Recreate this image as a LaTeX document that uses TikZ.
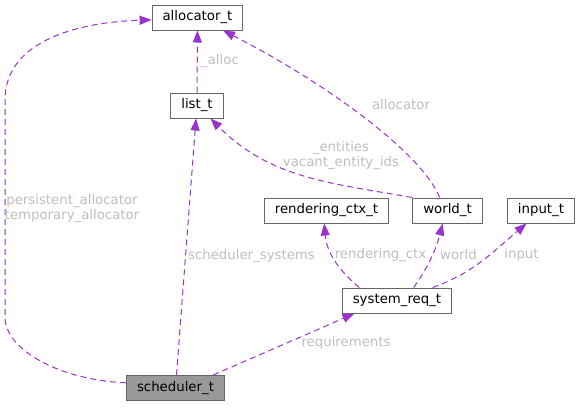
\documentclass[tikz,border=0pt]{standalone}
\usepackage{fontspec}
\setmainfont{DejaVu Sans}
\usepackage{tikz}
\usetikzlibrary{positioning,arrows.meta,calc}

\definecolor{memberline}{HTML}{9A32CD}
\definecolor{boxline}{HTML}{666666}
\definecolor{labeltext}{HTML}{BEBEBE}
\definecolor{mainfill}{HTML}{999999}

\begin{document}
\begin{tikzpicture}[x=1pt,y=-1pt,
    every node/.style={font=\fontsize{13.3}{14.5}\selectfont},
    cls/.style={draw=boxline,line width=1pt,fill=white,minimum height=25pt,inner xsep=10.5pt,inner ysep=0pt},
    lbl/.style={text=labeltext,align=center,inner sep=0pt},
    mem/.style={color=memberline,line width=1pt,dash pattern=on 6pt off 4pt,-{Triangle[length=12pt,width=9pt]}}]

  \useasboundingbox (0,0) rectangle (580,407);

  \node[cls] (alloc) at (197.5,17.5) {allocator\_t};
  \node[cls] (list) at (197,105.5) {list\_t};
  \node[cls] (rctx) at (326.5,210.5) {rendering\_ctx\_t};
  \node[cls] (world) at (447.5,210.5) {world\_t};
  \node[cls] (input) at (541,210.5) {input\_t};
  \node[cls] (sreq) at (397,300.5) {system\_req\_t};
  \node[cls,fill=mainfill] (sched) at (175.5,388) {scheduler\_t};

  \draw[mem] (sched.174) .. controls (60,380) and (5,350) .. (5,317)
    -- (5,100) .. controls (5,40) and (80,22) .. (alloc.183);
  \path[mem] (sched) edge (list);
  \path[mem] (sched.19) edge (sreq.197);
  \path[mem] (list) edge (alloc);
  \draw[mem] (world.121) .. controls (420,150) and (320,80) .. (alloc.-27);
  \path[mem] (world.north west) edge[out=170,in=-45] (list.-44);
  \path[mem] (sreq.161) edge[out=140,in=-85] (rctx.-100);
  \path[mem] (sreq.38) edge[out=55,in=-105] (world.-110);
  \path[mem] (sreq.20) edge[out=20,in=-140] (input.-138);

  \node[lbl] (l0) at (72,208.5) {persistent\_allocator\\temporary\_allocator};
  \node[lbl] (l1) at (251.5,256) {scheduler\_systems};
  \node[lbl] (l2) at (346,343) {requirements};
  \node[lbl] (l3) at (220,61) {\_alloc};
  \node[lbl] (l4) at (401,105) {allocator};
  \node[lbl] (l5) at (341,155.5) {\_entities\\vacant\_entity\_ids};
  \node[lbl] (l6) at (380.5,255) {rendering\_ctx};
  \node[lbl] (l7) at (458.5,255) {world};
  \node[lbl] (l8) at (521.5,255) {input};

\end{tikzpicture}
\end{document}
